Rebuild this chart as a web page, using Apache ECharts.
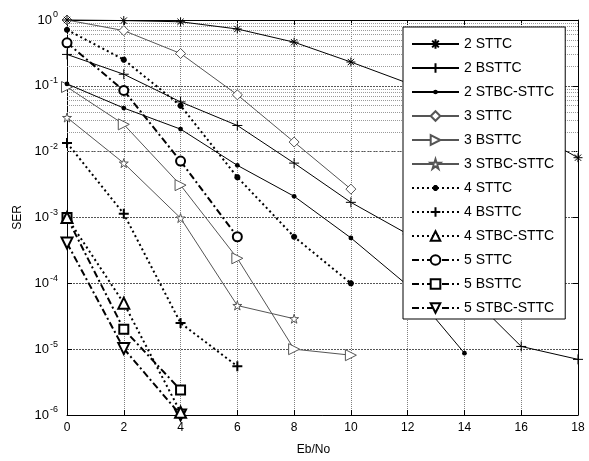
<!DOCTYPE html>
<html>
<head>
<meta charset="utf-8">
<script src="https://cdn.jsdelivr.net/npm/echarts@6/dist/echarts.min.js"></script>
<style>html,body{margin:0;padding:0;background:#fff;}#c{width:589px;height:461px;}</style>
</head>
<body>
<div id="c"></div>
<script>
// ---- data ----
var ebno = [0, 2, 4, 6, 8, 10, 12, 14, 16, 18];
var xTicks = [0, 2, 4, 6, 8, 10, 12, 14, 16, 18];
var names = ['2 STTC', '2 BSTTC', '2 STBC-STTC', '3 STTC', '3 BSTTC', '3 STBC-STTC',
             '4 STTC', '4 BSTTC', '4 STBC-STTC', '5 STTC', '5 BSTTC', '5 STBC-STTC'];
var ser2STTC     = [1.0, 0.98, 0.94, 0.73, 0.46, 0.23, 0.11, 0.054, 0.024, 0.0081];
var ser2BSTTC    = [0.30, 0.15, 0.057, 0.025, 0.0067, 0.0017, 5.6e-4, 7.9e-5, 1.1e-5, 7e-6];
var ser2STBC     = [0.107, 0.046, 0.022, 0.0062, 0.0021, 4.9e-4, 9.3e-5, 8.7e-6];
var ser3STTC     = [1.0, 0.69, 0.31, 0.073, 0.014, 0.0027];
var ser3BSTTC    = [0.096, 0.026, 0.0031, 2.4e-4, 1.0e-5, 8.1e-6];
var ser3STBC     = [0.033, 0.0067, 9.8e-4, 4.6e-5, 2.9e-5];
var ser4STTC     = [0.71, 0.25, 0.05, 0.0041, 5.1e-4, 1.0e-4];
var ser4BSTTC    = [0.0136, 1.14e-3, 2.5e-5, 5.5e-6];
var ser4STBC     = [1.0e-3, 5.0e-5, 1.1e-6];
var ser5STTC     = [0.45, 0.085, 0.0072, 5.1e-4];
var ser5BSTTC    = [1.0e-3, 2.0e-5, 2.4e-6];
var ser5STBC     = [4.1e-4, 1.02e-5, 1.0e-6];
var minorGrid = [];
for (var d = -6; d < 0; d++) { for (var m = 2; m <= 9; m++) { minorGrid.push(m * Math.pow(10, d)); } }

// ---- styling ----
var FONT = 'Liberation Sans, Arial, sans-serif';
var P_AST = 'path://M5,0L5,10M0,5L10,5M1.5,1.5L8.5,8.5M8.5,1.5L1.5,8.5';
// small asterisk / dot padded inside a 10x10 box so legend icons stay small
var P_AST_S = 'path://M0,0M10,10M5,2L5,8M2,5L8,5M2.9,2.9L7.1,7.1M7.1,2.9L2.9,7.1';
var P_DOT = 'path://M0,0M10,10M7.4,5A2.4,2.4,0,1,1,2.6,5A2.4,2.4,0,1,1,7.4,5Z';
var P_PLUS = 'path://M5,0L5,10M0,5L10,5';
var P_STAR = 'path://M0,-10L2.245,-3.09L9.51,-3.09L3.633,1.18L5.88,8.09L0,3.82L-5.88,8.09L-3.633,1.18L-9.51,-3.09L-2.245,-3.09Z';
var GRAY = '#555';
var styles = [
  {sym: P_AST, size: 9, fill: '#000', bc: '#000', bw: 1, lc: '#000', lw: 1, lt: 'solid'},
  {sym: P_PLUS, size: 10, fill: '#000', bc: '#000', bw: 1, lc: '#000', lw: 1, lt: 'solid'},
  {sym: P_DOT, size: 10, fill: '#000', bc: '#000', bw: 0, lc: '#000', lw: 1, lt: 'solid'},
  {sym: 'diamond', size: 10, fill: '#fff', bc: GRAY, bw: 1, lc: GRAY, lw: 1, lt: 'solid'},
  {sym: 'triangle', size: 11, rot: -90, fill: '#fff', bc: GRAY, bw: 1, lc: GRAY, lw: 1, lt: 'solid'},
  {sym: P_STAR, size: 9, fill: '#fff', bc: GRAY, bw: 1, lc: GRAY, lw: 1, lt: 'solid'},
  {sym: P_AST_S, size: 10, fill: '#000', bc: '#000', bw: 2, lc: '#000', lw: 2, lt: [2, 3]},
  {sym: P_PLUS, size: 10, fill: '#000', bc: '#000', bw: 2, lc: '#000', lw: 2, lt: [2, 3]},
  {sym: 'triangle', size: 11, fill: '#fff', bc: '#000', bw: 2, lc: '#000', lw: 2, lt: [2, 3]},
  {sym: 'circle', size: 9, fill: '#fff', bc: '#000', bw: 2, lc: '#000', lw: 2, lt: [7, 3, 2, 3]},
  {sym: 'rect', size: 9, fill: '#fff', bc: '#000', bw: 2, lc: '#000', lw: 2, lt: [7, 3, 2, 3]},
  {sym: 'triangle', size: 11, rot: 180, fill: '#fff', bc: '#000', bw: 2, lc: '#000', lw: 2, lt: [7, 3, 2, 3]}
];
var allData = [ser2STTC, ser2BSTTC, ser2STBC, ser3STTC, ser3BSTTC, ser3STBC,
               ser4STTC, ser4BSTTC, ser4STBC, ser5STTC, ser5BSTTC, ser5STBC];

var series = allData.map(function (vals, i) {
  var s = styles[i];
  return {
    name: names[i], type: 'line', xAxisIndex: 0, yAxisIndex: 0,
    data: vals.map(function (v, k) { return [ebno[k], v]; }),
    symbol: s.sym, symbolSize: s.size, symbolRotate: s.rot || 0,
    showAllSymbol: true, clip: false, z: 3 + (12 - i),
    lineStyle: {color: s.lc, width: s.lw, type: s.lt},
    itemStyle: {color: s.fill, borderColor: s.bc, borderWidth: s.bw},
    emphasis: {disabled: true},
    animation: false
  };
});
// minor log grid lines via markLine in data coordinates
series[0].markLine = {
  silent: true, symbol: 'none', animation: false, label: {show: false},
  lineStyle: {color: '#9a9a9a', width: 1, type: [1, 1]},
  data: minorGrid.map(function (v) { return {yAxis: v}; })
};

function fmtLog(v) {
  var e = Math.round(Math.log(v) / Math.LN10);
  return '{b|10}{e|' + e + '}';
}

var chart = echarts.init(document.getElementById('c'), null, {renderer: 'canvas'});
chart.setOption({
  backgroundColor: '#fff',
  animation: false,
  textStyle: {fontFamily: FONT},
  grid: {left: 67, right: 11, top: 20, bottom: 39, containLabel: false},
  xAxis: [{
    type: 'value', min: 0, max: 18, interval: 2, position: 'bottom',
    name: 'Eb/No', nameLocation: 'middle', nameGap: 29,
    nameTextStyle: {fontSize: 12, color: '#000', fontFamily: FONT, padding: [0, 18, 0, 0]},
    axisLine: {show: true, onZero: false, lineStyle: {color: '#000', width: 1}},
    axisTick: {show: true, inside: true, length: 5, lineStyle: {color: '#000'}},
    axisLabel: {show: true, margin: 7, fontSize: 12, color: '#000', fontFamily: FONT,
      formatter: function (v) { return xTicks.indexOf(v) >= 0 ? String(v) : ''; }},
    splitLine: {show: true, lineStyle: {color: '#808080', width: 1, type: [1, 1]}}
  }, {
    type: 'value', min: 0, max: 18, interval: 2, position: 'top',
    axisLine: {show: true, onZero: false, lineStyle: {color: '#000', width: 1}},
    axisTick: {show: true, inside: true, length: 5, lineStyle: {color: '#000'}},
    axisLabel: {show: false}, splitLine: {show: false}
  }],
  yAxis: [{
    type: 'log', logBase: 10, min: 1e-6, max: 1, interval: 1, position: 'left',
    name: 'SER', nameLocation: 'middle', nameGap: 42, nameRotate: 90,
    nameTextStyle: {fontSize: 12, color: '#000', fontFamily: FONT},
    axisLine: {show: true, onZero: false, lineStyle: {color: '#000', width: 1}},
    axisTick: {show: true, inside: true, length: 5, lineStyle: {color: '#000'}},
    axisLabel: {show: true, margin: 9, formatter: fmtLog, color: '#000',
      rich: {
        b: {fontSize: 13, fontFamily: FONT, color: '#000'},
        e: {fontSize: 9, fontFamily: FONT, color: '#000', padding: [0, 0, 10, 1]}
      }},
    splitLine: {show: true, lineStyle: {color: '#555', width: 1, type: [2, 1]}}
  }, {
    type: 'log', logBase: 10, min: 1e-6, max: 1, interval: 1, position: 'right',
    axisLine: {show: true, onZero: false, lineStyle: {color: '#000', width: 1}},
    axisTick: {show: true, inside: true, length: 5, lineStyle: {color: '#000'}},
    axisLabel: {show: false}, splitLine: {show: false}
  }],
  legend: {
    orient: 'vertical', left: 403, top: 27,
    data: names,
    itemWidth: 47, itemHeight: 12, itemGap: 10,
    padding: [10, 11, 4, 8],
    backgroundColor: '#fff', borderColor: '#000', borderWidth: 1, borderRadius: 0,
    textStyle: {fontSize: 14, color: '#000', fontFamily: FONT},
    selectedMode: false, z: 20
  },
  series: series
});
</script>
</body>
</html>
